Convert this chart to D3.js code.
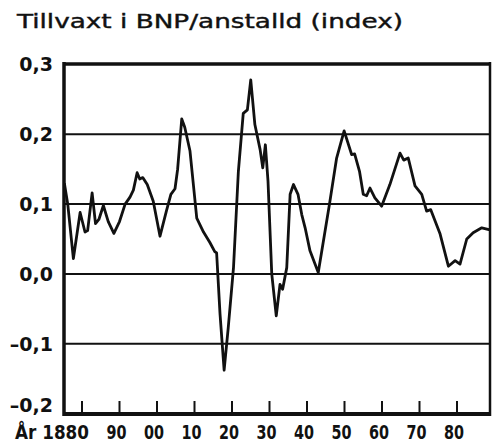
<!DOCTYPE html>
<html>
<head>
<meta charset="utf-8">
<script src="https://cdn.jsdelivr.net/npm/d3@7"></script>
<style>
  body { margin: 0; background: #fff; }
  text { font-family: "DejaVu Sans", sans-serif; fill: #111; }
</style>
</head>
<body>
<div id="chart-area"></div>
<script>
// SVG Size
var width = 492,
	height = 447;

// Data (year, index)
var years = [1875.3, 1876.2, 1877.7, 1879.5, 1880.8, 1881.5, 1882.7, 1883.6, 1884.5, 1885.7,
	1887, 1888.5, 1890, 1891.5, 1892.8, 1893.7, 1894.7, 1895.4, 1896.2, 1897.4,
	1899, 1900.8, 1902.5, 1903.7, 1904.8, 1905.5, 1906.6, 1907.4, 1908.8, 1910.6,
	1912.4, 1914.1, 1915.4, 1915.9, 1916.8, 1917.9, 1919, 1920.4, 1921.7, 1923,
	1924.1, 1925, 1926.1, 1927.5, 1928.2, 1928.9, 1929.6, 1930.6, 1931.8, 1932.8,
	1933.5, 1934.6, 1935.5, 1936.4, 1937.6, 1938.6, 1939.5, 1940.8, 1943, 1946,
	1947.9, 1949.9, 1951.9, 1952.7, 1954, 1955, 1955.9, 1956.8, 1958.1, 1959.9,
	1962.1, 1964.8, 1965.8, 1967, 1968.8, 1970.6, 1971.9, 1973, 1975.5, 1977.7,
	1979.5, 1980.8, 1982.6, 1984.3, 1986.6, 1988.8];
var values = [0.13, 0.10, 0.022, 0.088, 0.060, 0.062, 0.116, 0.072, 0.078, 0.098,
	0.075, 0.058, 0.075, 0.100, 0.110, 0.120, 0.145, 0.136, 0.138, 0.128,
	0.104, 0.054, 0.090, 0.114, 0.122, 0.150, 0.222, 0.210, 0.176, 0.080,
	0.060, 0.045, 0.032, 0.030, -0.057, -0.138, -0.077, 0.009, 0.147, 0.230,
	0.235, 0.278, 0.214, 0.178, 0.152, 0.185, 0.133, 0.0, -0.060, -0.015,
	-0.022, 0.009, 0.114, 0.128, 0.114, 0.085, 0.066, 0.033, 0.002, 0.100,
	0.166, 0.205, 0.171, 0.172, 0.147, 0.114, 0.112, 0.123, 0.109, 0.097,
	0.128, 0.173, 0.163, 0.166, 0.126, 0.114, 0.090, 0.092, 0.057, 0.011,
	0.019, 0.014, 0.050, 0.059, 0.066, 0.063];

var yTicks = [0.3, 0.2, 0.1, 0.0, -0.1, -0.2];
var yTickLabels = ["0,3", "0,2", "0,1", "0,0", "\u20130,1", "\u20130,2"];
var xTicks = [1880, 1890, 1900, 1910, 1920, 1930, 1940, 1950, 1960, 1970, 1980];
var xTickLabels = ["År 1880", "90", "00", "10", "20", "30", "40", "50", "60", "70", "80"];
var title = "Tillvaxt i BNP/anstalld (index)";

var data = years.map(function(y, i) { return { year: y, value: values[i] }; });

var svg = d3.select("#chart-area")
	.append("svg")
	.attr("width", width)
	.attr("height", height);

var x = d3.scaleLinear()
	.domain([1875.2, 1988.8])
	.range([64, 490]);

var y = d3.scaleLinear()
	.domain([-0.2, 0.3])
	.range([413.5, 64.5]);

// title
svg.append("text")
	.attr("x", 17)
	.attr("y", 28)
	.attr("font-size", 19)
	.attr("textLength", 386)
	.attr("lengthAdjust", "spacingAndGlyphs")
	.style("stroke", "#111")
	.style("stroke-width", 0.4)
	.text(title);

// grid lines
svg.selectAll(".grid")
	.data(yTicks.slice(1, 5))
	.enter()
	.append("line")
	.attr("x1", x.range()[0])
	.attr("x2", x.range()[1])
	.attr("y1", function(d) { return y(d); })
	.attr("y2", function(d) { return y(d); })
	.attr("stroke", "#111")
	.attr("stroke-width", 2);

// y labels (the bottom one sits a little above its line)
svg.selectAll(".ylab")
	.data(yTicks)
	.enter()
	.append("text")
	.attr("x", 53)
	.attr("y", function(d, i) { return y(d) - (i == 5 ? 8 : 0); })
	.attr("dy", "0.36em")
	.attr("text-anchor", "end")
	.attr("font-size", 19)
	.attr("font-weight", "bold")
	.text(function(d, i) { return yTickLabels[i]; });

// x ticks (inside, from the bottom)
svg.selectAll(".xtick")
	.data(xTicks)
	.enter()
	.append("line")
	.attr("x1", function(d) { return x(d); })
	.attr("x2", function(d) { return x(d); })
	.attr("y1", 401)
	.attr("y2", 414)
	.attr("stroke", "#111")
	.attr("stroke-width", 2);

// x labels
svg.selectAll(".xlab")
	.data(xTicks)
	.enter()
	.append("text")
	.attr("x", function(d, i) { return i == 0 ? x(d) + 7 : x(d) - 3; })
	.attr("y", 439)
	.attr("text-anchor", function(d, i) { return i == 0 ? "end" : "middle"; })
	.attr("font-size", 20)
	.attr("font-weight", "bold")
	.attr("textLength", function(d, i) { return i == 0 ? 74 : 20; })
	.attr("lengthAdjust", "spacingAndGlyphs")
	.text(function(d, i) { return xTickLabels[i]; });

// the series
var line = d3.line()
	.x(function(d) { return x(d.year); })
	.y(function(d) { return y(d.value); });

svg.append("path")
	.datum(data)
	.attr("d", line)
	.attr("fill", "none")
	.attr("stroke", "#111")
	.attr("stroke-width", 2.8)
	.attr("stroke-linejoin", "round");

// frame
var x0 = x.range()[0], x1 = x.range()[1];
svg.append("line").attr("x1", x0).attr("x2", x1).attr("y1", 64).attr("y2", 64)
	.attr("stroke", "#111").attr("stroke-width", 3.5);
svg.append("line").attr("x1", x0).attr("x2", x1).attr("y1", 414).attr("y2", 414)
	.attr("stroke", "#111").attr("stroke-width", 4);
svg.append("line").attr("x1", x0).attr("x2", x0).attr("y1", 62).attr("y2", 416)
	.attr("stroke", "#111").attr("stroke-width", 3.5);
svg.append("line").attr("x1", x1).attr("x2", x1).attr("y1", 62).attr("y2", 416)
	.attr("stroke", "#111").attr("stroke-width", 2.5);
</script>
</body>
</html>
